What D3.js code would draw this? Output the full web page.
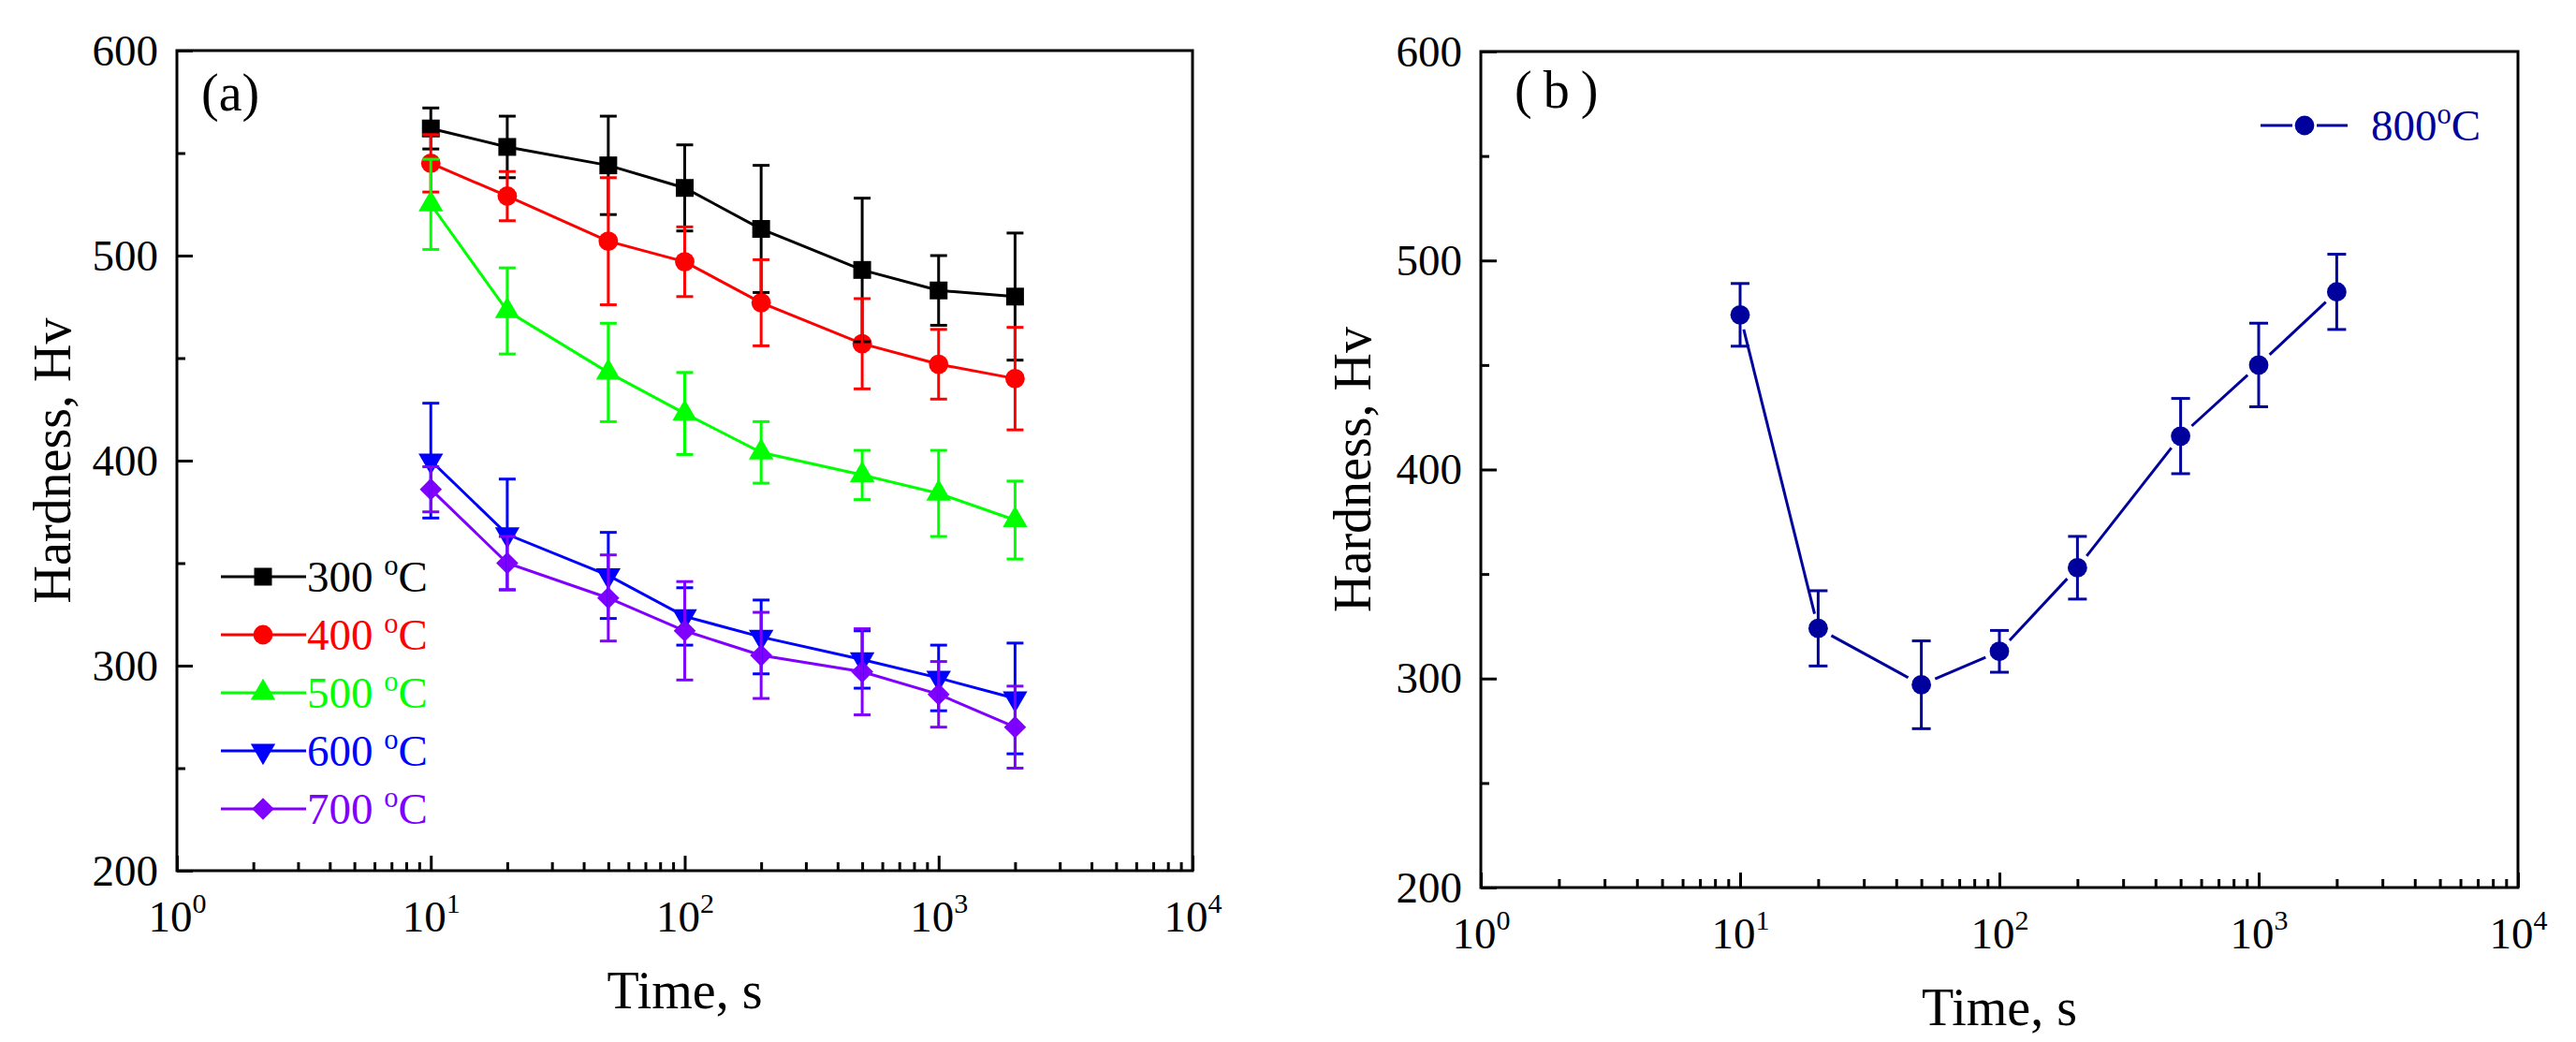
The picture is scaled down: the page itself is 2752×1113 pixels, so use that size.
<!DOCTYPE html>
<html>
<head>
<meta charset="utf-8">
<script src="https://cdn.jsdelivr.net/npm/d3@7"></script>
<style>
body { margin: 0; background: #fff; }
svg text { font-family: "Liberation Serif", "Times New Roman", serif; }
</style>
</head>
<body>
<svg id="chart" width="2752" height="1113"></svg>
<script>
// annealing time, s
var times = [10, 20, 50, 100, 200, 500, 1000, 2000];

// panel (a): hardness (Hv) and error bar half-widths
var hv300 = [562, 553, 544, 533, 513, 493, 483, 480];
var err300 = [10, 15, 24, 21, 31, 35, 17, 31];
var hv400 = [545, 529, 507, 497, 477, 457, 447, 440];
var err400 = [14, 12, 31, 17, 21, 22, 17, 25];
var hv500 = [525, 473, 443, 423, 404, 393, 384, 371];
var err500 = [22, 21, 24, 20, 15, 12, 21, 19];
var hv600 = [400, 364, 344, 324, 314, 303, 294, 284];
var err600 = [28, 27, 21, 14, 18, 14, 16, 27];
var hv700 = [386, 350, 333, 317, 305, 297, 286, 270];
var err700 = [11, 13, 21, 24, 21, 21, 16, 20];

// panel (b)
var hv800 = [474, 324, 297, 313, 353, 416, 450, 485];
var err800 = [15, 18, 21, 10, 15, 18, 20, 18];

var xMajorTicks = [1, 10, 100, 1000, 10000];
var yMajorTicks = [200, 300, 400, 500, 600];
var yMinorTicks = [250, 350, 450, 550];

var seriesA = [
    {label: "300 ", color: "#000000", shape: "square", values: hv300, errors: err300},
    {label: "400 ", color: "#ff0000", shape: "circle", values: hv400, errors: err400},
    {label: "500 ", color: "#00ff00", shape: "triangle", values: hv500, errors: err500},
    {label: "600 ", color: "#0000ff", shape: "triangleDown", values: hv600, errors: err600},
    {label: "700 ", color: "#8000ff", shape: "diamond", values: hv700, errors: err700}
];
var seriesB = [
    {label: "800", color: "#00009c", shape: "circle", values: hv800, errors: err800}
];

var svg = d3.select('#chart');

function symbolPath(shape) {
    if (shape == "square") return d3.symbol().type(d3.symbolSquare).size(361)();
    if (shape == "circle") return d3.symbol().type(d3.symbolCircle).size(340)();
    if (shape == "triangle" || shape == "triangleDown") return d3.symbol().type(d3.symbolTriangle).size(300)();
    if (shape == "diamond") return d3.symbol().type(d3.symbolSquare).size(280)();
}
function symbolRotate(shape) {
    if (shape == "triangleDown") return 180;
    if (shape == "diamond") return 45;
    return 0;
}

function addMarker(g, shape, color, cx, cy) {
    g.append('path')
        .attr('d', symbolPath(shape))
        .attr('transform', 'translate(' + cx + ',' + cy + ') rotate(' + symbolRotate(shape) + ')')
        .attr('fill', color);
}

function addTempLabel(g, x, y, label, color, size) {
    var t = g.append('text').attr('x', x).attr('y', y)
        .attr('font-size', size).attr('fill', color);
    t.append('tspan').text(label);
    t.append('tspan').attr('dy', -18).attr('font-size', size * 0.65).text('o');
    t.append('tspan').attr('dy', 18).text('C');
}

function drawPanel(p, series) {
    var x = d3.scaleLog().domain([1, 10000]).range([p.left, p.right]);
    var y = d3.scaleLinear().domain([200, 600]).range([p.bottom, p.top]);
    var g = svg.append('g');

    var xMinor = x.ticks().filter(function (d) { return xMajorTicks.indexOf(d) < 0; });

    // x axis, ticks point inward
    g.append('g').attr('transform', 'translate(0,' + p.bottom + ')')
        .call(d3.axisBottom(x).tickValues(xMinor).tickSizeInner(-9).tickSizeOuter(0).tickFormat(''));
    var xa = g.append('g').attr('transform', 'translate(0,' + p.bottom + ')')
        .call(d3.axisBottom(x).tickValues(xMajorTicks).tickSizeInner(-16).tickSizeOuter(0));
    xa.selectAll('.tick text').each(function (d) {
        var t = d3.select(this).text(null).attr('y', 65).attr('dy', null);
        t.append('tspan').text('10');
        t.append('tspan').attr('dy', -20).attr('font-size', 30).text(Math.round(Math.log10(d)));
    });

    // y axis
    g.append('g').attr('transform', 'translate(' + p.left + ',0)')
        .call(d3.axisLeft(y).tickValues(yMinorTicks).tickSizeInner(-9).tickSizeOuter(0).tickFormat(''));
    g.append('g').attr('transform', 'translate(' + p.left + ',0)')
        .call(d3.axisLeft(y).tickValues(yMajorTicks).tickSizeInner(-17).tickSizeOuter(0).tickPadding(20));

    g.selectAll('.domain').remove();
    g.selectAll('.tick line').attr('stroke', '#000').attr('stroke-width', 3);
    g.selectAll('.tick text').attr('font-size', 47).attr('font-family', '"Liberation Serif", serif').attr('fill', '#000');

    g.append('rect')
        .attr('x', p.left).attr('y', p.top)
        .attr('width', p.right - p.left).attr('height', p.bottom - p.top)
        .attr('fill', 'none').attr('stroke', '#000').attr('stroke-width', 3);

    // titles
    g.append('text').attr('x', (p.left + p.right) / 2).attr('y', p.xTitleY)
        .attr('text-anchor', 'middle').attr('font-size', 56).text('Time, s');
    g.append('text')
        .attr('transform', 'translate(' + p.yTitleX + ',' + (p.top + p.bottom) / 2 + ') rotate(-90)')
        .attr('text-anchor', 'middle').attr('font-size', 56).text('Hardness, Hv');
    g.append('text').attr('x', p.tagX).attr('y', p.tagY)
        .attr('font-size', 56).attr('letter-spacing', p.tagSpacing).text(p.tag);

    var rows = series.map(function (s) {
        return times.map(function (t, i) { return {t: t, v: s.values[i], e: s.errors[i]}; });
    });

    // connecting lines
    series.forEach(function (s, k) {
        if (p.lineGap > 0) {
            var pts = rows[k].map(function (d) { return [x(d.t), y(d.v)]; });
            for (var i = 0; i < pts.length - 1; i++) {
                var dx = pts[i + 1][0] - pts[i][0], dy = pts[i + 1][1] - pts[i][1];
                var len = Math.sqrt(dx * dx + dy * dy), ux = dx / len, uy = dy / len;
                g.append('line')
                    .attr('x1', pts[i][0] + ux * p.lineGap).attr('y1', pts[i][1] + uy * p.lineGap)
                    .attr('x2', pts[i + 1][0] - ux * p.lineGap).attr('y2', pts[i + 1][1] - uy * p.lineGap)
                    .attr('stroke', s.color).attr('stroke-width', 3);
            }
        } else {
            g.append('path').datum(rows[k])
                .attr('d', d3.line().x(function (d) { return x(d.t); }).y(function (d) { return y(d.v); }))
                .attr('fill', 'none').attr('stroke', s.color).attr('stroke-width', 3);
        }
    });

    // symbols
    series.forEach(function (s, k) {
        rows[k].forEach(function (d) { addMarker(g, s.shape, s.color, x(d.t), y(d.v)); });
    });

    // error bars
    series.forEach(function (s, k) {
        var eb = g.append('g').attr('stroke', s.color).attr('stroke-width', 3);
        rows[k].forEach(function (d) {
            var cx = x(d.t), y0 = y(d.v - d.e), y1 = y(d.v + d.e), w = p.capWidth / 2;
            eb.append('line').attr('x1', cx).attr('x2', cx).attr('y1', y0).attr('y2', y1);
            eb.append('line').attr('x1', cx - w).attr('x2', cx + w).attr('y1', y0).attr('y2', y0);
            eb.append('line').attr('x1', cx - w).attr('x2', cx + w).attr('y1', y1).attr('y2', y1);
        });
    });

    return g;
}

var gA = drawPanel({left: 189, right: 1274, top: 54, bottom: 930, xTitleY: 1077, yTitleX: 75,
    tag: '(a)', tagX: 215, tagY: 118, tagSpacing: 0, capWidth: 18, lineGap: 0}, seriesA);

var gB = drawPanel({left: 1582, right: 2690, top: 55, bottom: 948, xTitleY: 1095, yTitleX: 1464,
    tag: '(b)', tagX: 1618, tagY: 115, tagSpacing: 12, capWidth: 20, lineGap: 16}, seriesB);

// legend (a)
seriesA.forEach(function (s, i) {
    var ly = 616 + 62 * i;
    gA.append('line').attr('x1', 236).attr('x2', 327).attr('y1', ly).attr('y2', ly)
        .attr('stroke', s.color).attr('stroke-width', 3);
    addMarker(gA, s.shape, s.color, 281, ly);
    addTempLabel(gA, 328, ly + 15.5, s.label, s.color, 47);
});

// legend (b)
seriesB.forEach(function (s) {
    var ly = 134;
    gB.append('line').attr('x1', 2415).attr('x2', 2449).attr('y1', ly).attr('y2', ly)
        .attr('stroke', s.color).attr('stroke-width', 3);
    gB.append('line').attr('x1', 2475).attr('x2', 2508).attr('y1', ly).attr('y2', ly)
        .attr('stroke', s.color).attr('stroke-width', 3);
    addMarker(gB, s.shape, s.color, 2462, ly);
    addTempLabel(gB, 2533, ly + 16, s.label, s.color, 47);
});
</script>
</body>
</html>
